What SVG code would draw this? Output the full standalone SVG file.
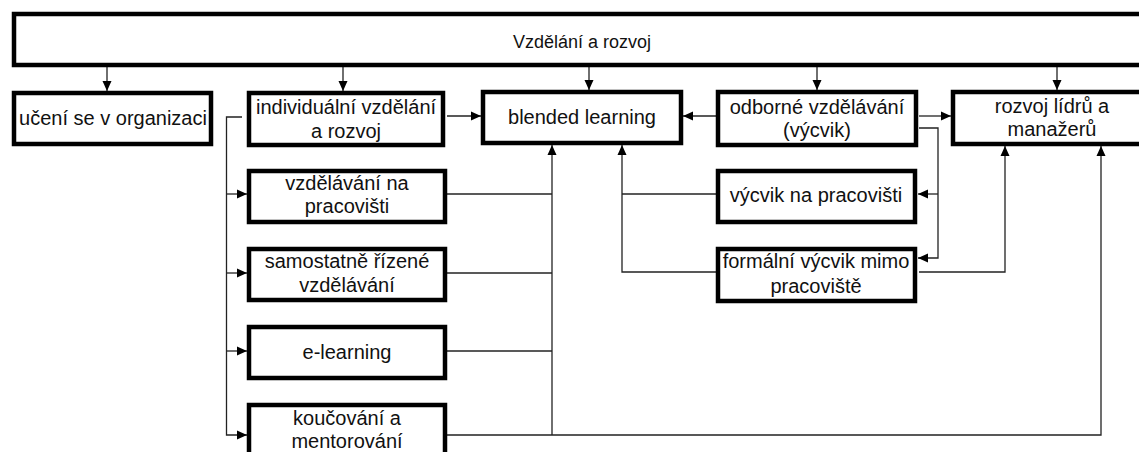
<svg xmlns="http://www.w3.org/2000/svg" width="1139" height="452" viewBox="0 0 1139 452">
<style>
  .box { fill: #ffffff; stroke: #000000; stroke-width: 4.5; }
  .lbl { font-family: "Liberation Sans", Arial, sans-serif; font-size: 20px; fill: #111111; text-anchor: middle; }
  .title { font-family: "Liberation Sans", Arial, sans-serif; font-size: 18px; fill: #111111; text-anchor: middle; }
  .c { fill: none; stroke: #222222; stroke-width: 1.3; }
  .a { marker-end: url(#arr); }
</style>
<defs>
  <marker id="arr" markerUnits="userSpaceOnUse" viewBox="0 0 10 10" markerWidth="10" markerHeight="10" refX="10" refY="5" orient="auto">
    <path d="M0,0.5 L10,5 L0,9.5 z" fill="#000000"/>
  </marker>
</defs>
<rect width="1139" height="452" fill="#ffffff"/>

<g id="connectors">
  <path class="c a" d="M107,67 V91"/>
  <path class="c a" d="M343,67 V91"/>
  <path class="c a" d="M589,67 V90"/>
  <path class="c a" d="M817,67 V90"/>
  <path class="c a" d="M1057,67 V90"/>
  <path class="c a" d="M447,116 H481"/>
  <path class="c a" d="M716,116 H683"/>
  <path class="c a" d="M919,116 H951"/>
  <path class="c a" d="M919,128 H938 V258 H918"/>
  <path class="c a" d="M938,194 H918"/>
  <path class="c a" d="M242,117 H226.5 V435 H247"/>
  <path class="c a" d="M226.5,194 H247"/>
  <path class="c a" d="M226.5,273 H247"/>
  <path class="c a" d="M226.5,351 H247"/>
  <path class="c" d="M447,194 H552"/>
  <path class="c" d="M447,273 H552"/>
  <path class="c" d="M447,351 H552"/>
  <path class="c a" d="M552,435 V145"/>
  <path class="c a" d="M447,435 H1101 V146"/>
  <path class="c" d="M716,194 H622"/>
  <path class="c a" d="M716,272 H622 V145"/>
  <path class="c a" d="M919,272 H1005 V146"/>
</g>

<g id="n-vzdelani">
  <rect class="box" x="14" y="14" width="1140" height="51"/>
  <text class="title" x="582" y="48">Vzdělání a rozvoj</text>
</g>
<g id="n-uceni">
  <rect class="box" x="14" y="93" width="197" height="51"/>
  <text class="lbl" x="113" y="125">učení se v organizaci</text>
</g>
<g id="n-individualni">
  <rect class="box" x="249" y="93" width="194" height="52"/>
  <text class="lbl" x="346" y="114">individuální vzdělání</text>
  <text class="lbl" x="346" y="138">a rozvoj</text>
</g>
<g id="n-blended">
  <rect class="box" x="483" y="92" width="198" height="51"/>
  <text class="lbl" x="582" y="124">blended learning</text>
</g>
<g id="n-odborne">
  <rect class="box" x="718" y="92" width="198" height="53"/>
  <text class="lbl" x="817" y="114">odborné vzdělávání</text>
  <text class="lbl" x="817" y="137">(výcvik)</text>
</g>
<g id="n-rozvoj">
  <rect class="box" x="953" y="92" width="200" height="52"/>
  <text class="lbl" x="1052" y="113">rozvoj lídrů a</text>
  <text class="lbl" x="1052" y="136">manažerů</text>
</g>
<g id="n-vzdelavani-pracovisti">
  <rect class="box" x="249" y="171" width="196" height="51"/>
  <text class="lbl" x="347" y="190">vzdělávání na</text>
  <text class="lbl" x="347" y="213">pracovišti</text>
</g>
<g id="n-samostatne">
  <rect class="box" x="249" y="249" width="196" height="51"/>
  <text class="lbl" x="347" y="268">samostatně řízené</text>
  <text class="lbl" x="347" y="292">vzdělávání</text>
</g>
<g id="n-elearning">
  <rect class="box" x="249" y="327" width="196" height="51"/>
  <text class="lbl" x="347" y="359">e-learning</text>
</g>
<g id="n-koucovani">
  <rect class="box" x="249" y="405" width="196" height="55"/>
  <text class="lbl" x="347" y="425">koučování a</text>
  <text class="lbl" x="347" y="448">mentorování</text>
</g>
<g id="n-vycvik-pracovisti">
  <rect class="box" x="718" y="171" width="197" height="51"/>
  <text class="lbl" x="816" y="202">výcvik na pracovišti</text>
</g>
<g id="n-formalni">
  <rect class="box" x="718" y="249" width="197" height="52"/>
  <text class="lbl" x="816" y="268">formální výcvik mimo</text>
  <text class="lbl" x="816" y="293">pracoviště</text>
</g>
</svg>
